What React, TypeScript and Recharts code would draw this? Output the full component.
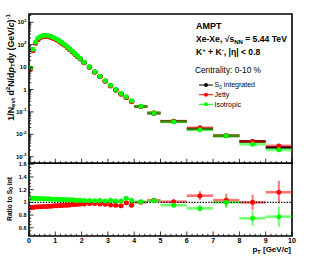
import React from 'react';
import { ComposedChart, Scatter, XAxis, YAxis, ErrorBar, ReferenceLine, ReferenceArea } from 'recharts';

// pT bin centres and half widths (GeV/c)
const ptCenters = [
  0.05, 0.15, 0.25, 0.35, 0.45, 0.55, 0.65, 0.75, 0.85, 0.95,
  1.05, 1.15, 1.25, 1.35, 1.45, 1.55, 1.65, 1.75, 1.85, 1.95,
  2.1, 2.3, 2.5, 2.7, 2.9, 3.1, 3.3, 3.5, 3.7, 3.9,
  4.25, 4.75, 5.5, 6.5, 7.5, 8.5, 9.5,
];
const ptHalfWidths = [
  0.05, 0.05, 0.05, 0.05, 0.05, 0.05, 0.05, 0.05, 0.05, 0.05,
  0.05, 0.05, 0.05, 0.05, 0.05, 0.05, 0.05, 0.05, 0.05, 0.05,
  0.1, 0.1, 0.1, 0.1, 0.1, 0.1, 0.1, 0.1, 0.1, 0.1,
  0.25, 0.25, 0.5, 0.5, 0.5, 0.5, 0.5,
];
// S0 integrated spectrum
const spectrumIntegrated = [
  8.5, 58, 125, 185, 225, 245, 248, 238, 218, 195,
  170, 145, 120, 98, 78, 62, 49, 38, 30, 23.5,
  16, 10, 6, 3.8, 2.4, 1.5, 0.98, 0.65, 0.44, 0.3,
  0.175, 0.088, 0.038, 0.0175, 0.0085, 0.0048, 0.0026,
];
// ratios to S0 integrated
const ratioJetty = [
  0.92, 0.92, 0.925, 0.93, 0.93, 0.935, 0.935, 0.94, 0.94, 0.945,
  0.945, 0.95, 0.95, 0.955, 0.955, 0.96, 0.965, 0.965, 0.97, 0.975,
  0.975, 0.98, 0.98, 0.975, 0.97, 0.96, 0.955, 0.945, 0.995, 0.955,
  1.0, 1.035, 1.01, 1.105, 1.035, 1.0, 1.16,
];
const ratioIsotropic = [
  1.065, 1.065, 1.06, 1.06, 1.06, 1.055, 1.055, 1.055, 1.05, 1.05,
  1.05, 1.045, 1.045, 1.045, 1.04, 1.04, 1.04, 1.035, 1.035, 1.035,
  1.03, 1.03, 1.025, 1.03, 1.02, 1.035, 1.02, 1.02, 1.065, 1.035,
  1.01, 1.025, 0.955, 0.905, 1.0, 0.75, 0.775,
];
const ratioJettyErr = [
  0.004, 0.004, 0.004, 0.004, 0.004, 0.004, 0.004, 0.004, 0.004, 0.004,
  0.005, 0.005, 0.005, 0.005, 0.006, 0.006, 0.006, 0.007, 0.007, 0.008,
  0.008, 0.009, 0.01, 0.011, 0.012, 0.013, 0.014, 0.015, 0.016, 0.017,
  0.015, 0.02, 0.03, 0.07, 0.1, 0.12, 0.18,
];
const ratioIsotropicErr = [
  0.004, 0.004, 0.004, 0.004, 0.004, 0.004, 0.004, 0.004, 0.004, 0.004,
  0.005, 0.005, 0.005, 0.005, 0.006, 0.006, 0.006, 0.007, 0.007, 0.008,
  0.008, 0.009, 0.01, 0.011, 0.012, 0.013, 0.014, 0.015, 0.016, 0.017,
  0.015, 0.02, 0.03, 0.05, 0.09, 0.12, 0.16,
];

const xTickLabels = [0, 1, 2, 3, 4, 5, 6, 7, 8, 9, 10];
const spectrumDecades = [-3, -2, -1, 0, 1, 2, 3];
const ratioTickLabels = ['0.6', '0.8', '1', '1.2', '1.4', '1.6'];

// layout
const W = 327;
const H = 273;
const PLOT_L = 29;
const PLOT_R = 292;
const UP_T = 14;
const SPLIT = 163.3;
const LOW_B = 236;
const SPEC_DOMAIN: [number, number] = [5.07e-4, 2340];
const RATIO_DOMAIN: [number, number] = [0.47, 1.615];
const FONT = '"Liberation Sans", Arial, Helvetica, sans-serif';

const BLACK = '#000000';
const RED = '#ff0000';
const GREEN = '#00ff00';

const specBlack = ptCenters.map((x, i) => ({ x, y: spectrumIntegrated[i], xerr: ptHalfWidths[i] }));
const specJetty = ptCenters.map((x, i) => ({ x, y: spectrumIntegrated[i] * ratioJetty[i], xerr: ptHalfWidths[i] }));
const specIso = ptCenters.map((x, i) => ({ x, y: spectrumIntegrated[i] * ratioIsotropic[i], xerr: ptHalfWidths[i] }));
const ratJetty = ptCenters.map((x, i) => ({ x, y: ratioJetty[i], xerr: ptHalfWidths[i], yerr: ratioJettyErr[i] }));
const ratIso = ptCenters.map((x, i) => ({ x, y: ratioIsotropic[i], xerr: ptHalfWidths[i], yerr: ratioIsotropicErr[i] }));

// tick lists
const xTicksAll: number[] = [];
for (let i = 0; i <= 50; i++) xTicksAll.push(Math.round(i * 2) / 10);
const specTicks: number[] = [];
for (const d of [-4, ...spectrumDecades]) {
  for (let m = 1; m <= 9; m++) {
    const v = m * Math.pow(10, d);
    if (v >= SPEC_DOMAIN[0] && v <= SPEC_DOMAIN[1]) specTicks.push(v);
  }
}
const ratioTicks: number[] = [];
for (let i = 10; i <= 32; i++) ratioTicks.push(Math.round(i * 5) / 100);

const dot = (color: string, r = 2.5) => (p: any) =>
  p.cx == null ? <g /> : <circle cx={p.cx} cy={p.cy} r={r} fill={color} />;

const makeXTick = (bottomY: number, showLabel: boolean) => (props: any) => {
  const v = props.payload.value;
  const x = props.payload.coordinate ?? props.x;
  const major = Math.abs(v - Math.round(v)) < 1e-6;
  return (
    <g>
      <line x1={x} x2={x} y1={bottomY} y2={bottomY - (major ? 4.5 : 2.2)} stroke="#000" strokeWidth={0.8} />
      {showLabel && major && xTickLabels.includes(Math.round(v)) ? (
        <text x={x} y={bottomY + 6.6} textAnchor="middle" fontSize={7} fontFamily={FONT} fontWeight={600} fill="#000">
          {Math.round(v)}
        </text>
      ) : null}
    </g>
  );
};

const specYTick = (props: any) => {
  const v = props.payload.value;
  const y = props.payload.coordinate ?? props.y;
  const lg = Math.log10(v);
  const major = Math.abs(lg - Math.round(lg)) < 1e-6;
  const d = Math.round(lg);
  let label: any = null;
  if (major && spectrumDecades.includes(d)) {
    if (d === 0) label = '1';
    else if (d === 1) label = '10';
    else
      label = (
        <>
          10
          <tspan dy={-2.8} fontSize={4.3}>{String(d)}</tspan>
        </>
      );
  }
  return (
    <g>
      <line x1={PLOT_L} x2={PLOT_L + (major ? 4.5 : 2.2)} y1={y} y2={y} stroke="#000" strokeWidth={0.8} />
      {label ? (
        <text x={PLOT_L - 2.5} y={y + 2.2} textAnchor="end" fontSize={6} fontFamily={FONT} fontWeight={600} fill="#000">
          {label}
        </text>
      ) : null}
    </g>
  );
};

const ratioYTick = (props: any) => {
  const v = props.payload.value;
  const y = props.payload.coordinate ?? props.y;
  const idx = ratioTickLabels.findIndex((s) => Math.abs(parseFloat(s) - v) < 1e-6);
  const major = idx >= 0;
  return (
    <g>
      <line x1={PLOT_L} x2={PLOT_L + (major ? 4.5 : 2.2)} y1={y} y2={y} stroke="#000" strokeWidth={0.8} />
      {major ? (
        <text x={PLOT_L - 2.5} y={y + 2} textAnchor="end" fontSize={5.5} fontFamily={FONT} fontWeight={600} fill="#000">
          {ratioTickLabels[idx]}
        </text>
      ) : null}
    </g>
  );
};

const abs: React.CSSProperties = { position: 'absolute', left: 0, top: 0 };

export default function App() {
  return (
    <div style={{ position: 'absolute', left: 0, top: 0, width: W, height: H, background: '#fff' }}>
      {/* upper panel: spectra */}
      <div style={abs}>
        <ComposedChart width={W} height={H} margin={{ top: UP_T, right: W - PLOT_R, bottom: H - SPLIT - 1, left: PLOT_L - 1 }}>
          <XAxis
            type="number"
            dataKey="x"
            domain={[0, 10]}
            ticks={xTicksAll}
            interval={0}
            height={1}
            axisLine={false}
            tickLine={false}
            tick={makeXTick(SPLIT, false)}
            allowDataOverflow
          />
          <YAxis
            type="number"
            dataKey="y"
            scale="log"
            domain={SPEC_DOMAIN}
            ticks={specTicks}
            interval={0}
            width={1}
            axisLine={false}
            tickLine={false}
            tick={specYTick}
            allowDataOverflow
          />
          <Scatter data={specBlack} isAnimationActive={false} shape={dot(BLACK)}>
            <ErrorBar dataKey="xerr" direction="x" width={0} stroke={BLACK} strokeWidth={2.6} />
          </Scatter>
          <Scatter data={specJetty} isAnimationActive={false} shape={dot(RED)}>
            <ErrorBar dataKey="xerr" direction="x" width={0} stroke={RED} strokeOpacity={0.55} strokeWidth={2.8} />
          </Scatter>
          <Scatter data={specIso} isAnimationActive={false} shape={dot(GREEN)}>
            <ErrorBar dataKey="xerr" direction="x" width={0} stroke={GREEN} strokeOpacity={0.55} strokeWidth={2.8} />
          </Scatter>
          <ReferenceArea
            x1={0}
            x2={10}
            y1={SPEC_DOMAIN[0]}
            y2={SPEC_DOMAIN[1]}
            fill="none"
            fillOpacity={0}
            stroke="#000"
            strokeWidth={1.6}
            ifOverflow="visible"
          />
        </ComposedChart>
      </div>

      {/* lower panel: ratios */}
      <div style={abs}>
        <ComposedChart width={W} height={H} margin={{ top: SPLIT, right: W - PLOT_R, bottom: H - LOW_B - 1, left: PLOT_L - 1 }}>
          <XAxis
            type="number"
            dataKey="x"
            domain={[0, 10]}
            ticks={xTicksAll}
            interval={0}
            height={1}
            axisLine={false}
            tickLine={false}
            tick={makeXTick(LOW_B, true)}
            allowDataOverflow
          />
          <YAxis
            type="number"
            dataKey="y"
            domain={RATIO_DOMAIN}
            ticks={ratioTicks}
            interval={0}
            width={1}
            axisLine={false}
            tickLine={false}
            tick={ratioYTick}
            allowDataOverflow
          />
          <Scatter data={ratJetty} isAnimationActive={false} shape={dot(RED)}>
            <ErrorBar dataKey="xerr" direction="x" width={0} stroke={RED} strokeOpacity={0.55} strokeWidth={2.6} />
            <ErrorBar dataKey="yerr" direction="y" width={0} stroke={RED} strokeOpacity={0.55} strokeWidth={2} />
          </Scatter>
          <Scatter data={ratIso} isAnimationActive={false} shape={dot(GREEN)}>
            <ErrorBar dataKey="xerr" direction="x" width={0} stroke={GREEN} strokeOpacity={0.55} strokeWidth={2.6} />
            <ErrorBar dataKey="yerr" direction="y" width={0} stroke={GREEN} strokeOpacity={0.55} strokeWidth={2} />
          </Scatter>
          <ReferenceLine y={1} stroke="#000" strokeWidth={1.1} strokeDasharray="1.4 1.4" ifOverflow="visible" />
          <ReferenceArea
            x1={0}
            x2={10}
            y1={RATIO_DOMAIN[0]}
            y2={RATIO_DOMAIN[1]}
            fill="none"
            fillOpacity={0}
            stroke="#000"
            strokeWidth={1.6}
            ifOverflow="visible"
          />
        </ComposedChart>
      </div>

      {/* text overlay */}
      <svg width={W} height={H} style={{ ...abs, pointerEvents: 'none' }} fontFamily={FONT}>
        {/* upper y title */}
        <text transform={`translate(13.5,${UP_T}) rotate(-90)`} textAnchor="end" fontSize={8.9} fontWeight="bold" fill="#000">
          1/N<tspan dy={1.9} fontSize={6.1}>evt</tspan>
          <tspan dy={-1.9}> d</tspan>
          <tspan dy={-3.1} fontSize={6.1}>2</tspan>
          <tspan dy={3.1}>N/d</tspan>
          <tspan fontStyle="italic">p</tspan>
          <tspan dy={1.9} fontSize={6.1}>T</tspan>
          <tspan dy={-1.9}>dy (GeV/</tspan>
          <tspan fontStyle="italic">c</tspan>
          <tspan>)</tspan>
          <tspan dy={-3.1} fontSize={6.1}>-1</tspan>
        </text>
        {/* lower y title */}
        <text transform="translate(11.5,199) rotate(-90)" textAnchor="middle" fontSize={6.7} fontWeight="bold" fill="#000">
          Ratio to S<tspan dy={1.5} fontSize={4.8}>0</tspan>
          <tspan dy={-1.5}> int</tspan>
        </text>
        {/* x title */}
        <text x={PLOT_R - 1} y={252} textAnchor="end" fontSize={8} fontWeight={600} fill="#000">
          p<tspan dy={2} fontSize={5.6}>T</tspan>
          <tspan dy={-2}> [GeV/</tspan>
          <tspan fontStyle="italic">c</tspan>
          <tspan>]</tspan>
        </text>

        {/* annotations */}
        <text x={196} y={28.5} fontSize={9} fontWeight="bold" fill="#000">AMPT</text>
        <text x={196} y={41.5} fontSize={8.6} fontWeight="bold" fill="#000">
          Xe-Xe, √s<tspan dy={2} fontSize={6}>NN</tspan>
          <tspan dy={-2}> = 5.44 TeV</tspan>
        </text>
        <text x={196} y={55} fontSize={8.6} fontWeight="bold" fill="#000">
          K<tspan dy={-3.2} fontSize={6}>+</tspan>
          <tspan dy={3.2}> + K</tspan>
          <tspan dy={-3.2} fontSize={6}>-</tspan>
          <tspan dy={3.2}>, |η| &lt; 0.8</tspan>
        </text>
        <text x={195} y={73.3} fontSize={8.3} fill="#000">Centrality: 0-10 %</text>

        {/* legend */}
        <line x1={199} x2={213} y1={85} y2={85} stroke={BLACK} strokeWidth={1} />
        <circle cx={206} cy={85} r={2} fill={BLACK} />
        <text x={214.5} y={87.4} fontSize={7} fill="#000">
          S<tspan dy={1.5} fontSize={4.8}>0</tspan>
          <tspan dy={-1.5}> integrated</tspan>
        </text>
        <line x1={199} x2={213} y1={94.7} y2={94.7} stroke={RED} strokeWidth={1} />
        <circle cx={206} cy={94.7} r={2} fill={RED} />
        <text x={214.5} y={97.1} fontSize={7} fill="#000">Jetty</text>
        <line x1={199} x2={213} y1={104.3} y2={104.3} stroke={GREEN} strokeWidth={1} />
        <circle cx={206} cy={104.3} r={2} fill={GREEN} />
        <text x={214.5} y={106.7} fontSize={7} fill="#000">Isotropic</text>
      </svg>
    </div>
  );
}
